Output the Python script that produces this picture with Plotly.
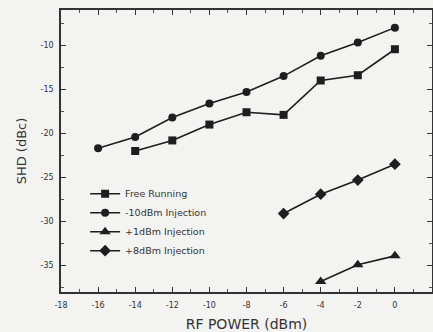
import plotly.graph_objects as go

x_free = [-14, -12, -10, -8, -6, -4, -2, 0]
y_free = [-22.0, -20.8, -19.0, -17.6, -17.9, -14.0, -13.4, -10.45]

x_m10 = [-16, -14, -12, -10, -8, -6, -4, -2, 0]
y_m10 = [-21.7, -20.4, -18.2, -16.6, -15.3, -13.5, -11.2, -9.7, -8.0]

x_p1 = [-4, -2, 0]
y_p1 = [-36.8, -34.9, -33.9]

x_p8 = [-6, -4, -2, 0]
y_p8 = [-29.1, -26.9, -25.3, -23.5]

names = ["Free Running", "-10dBm Injection", "+1dBm Injection", "+8dBm Injection"]
symbols = ["square", "circle", "triangle-up", "diamond"]
sizes = [8, 8, 10, 9]

x_ticks = [-18, -16, -14, -12, -10, -8, -6, -4, -2, 0, 2]
y_ticks = [-10, -15, -20, -25, -30, -35]

ink = "#1e1e1e"
font_fam = "DejaVu Sans, Verdana, sans-serif"
fig = go.Figure()
for xs, ys, nm, sym, sz in zip([x_free, x_m10, x_p1, x_p8], [y_free, y_m10, y_p1, y_p8], names, symbols, sizes):
    fig.add_trace(go.Scatter(
        x=xs, y=ys, name=nm, mode="lines+markers",
        line=dict(color=ink, width=1.6),
        marker=dict(symbol=sym, size=sz, color=ink),
    ))

axis_common = dict(
    showline=True, linecolor="#333", linewidth=1.5, mirror="allticks",
    ticks="inside", ticklen=5, tickwidth=1.2, tickcolor="#333",
    showgrid=False, zeroline=False, automargin=False,
    tickfont=dict(family=font_fam, size=8, color="#333"),
)

fig.update_xaxes(
    range=[-18, 2], tickvals=x_ticks, ticktext=[str(v) for v in x_ticks],
    ticklabelstandoff=5,
    minor=dict(dtick=1, ticks="inside", ticklen=3, tickcolor="#555", showgrid=False),
    title=dict(text="RF POWER (dBm)", font=dict(family=font_fam, size=14, color="#333"), standoff=12),
    **axis_common,
)
fig.update_yaxes(
    range=[-38, -6], tickvals=y_ticks, ticktext=[str(v) for v in y_ticks],
    ticklabelstandoff=4,
    minor=dict(dtick=2.5, tick0=0, ticks="inside", ticklen=3, tickcolor="#555", showgrid=False),
    title=dict(text="SHD (dBc)", font=dict(family=font_fam, size=13, color="#333"), standoff=11),
    **axis_common,
)

fig.update_layout(
    width=433, height=332,
    margin=dict(l=61, r=1, t=10, b=40),
    paper_bgcolor="#f3f3f1", plot_bgcolor="#f3f3f1",
    showlegend=True,
    legend=dict(
        x=0.065, y=0.40, xanchor="left", yanchor="top",
        bgcolor="rgba(0,0,0,0)", borderwidth=0,
        font=dict(family=font_fam, size=9.5, color="#333"),
        tracegroupgap=0, itemwidth=30,
    ),
)

fig.write_html(
    "out.html",
    config={"displayModeBar": False},
    post_script="document.body.style.margin='0';document.body.style.overflow='hidden';",
)
